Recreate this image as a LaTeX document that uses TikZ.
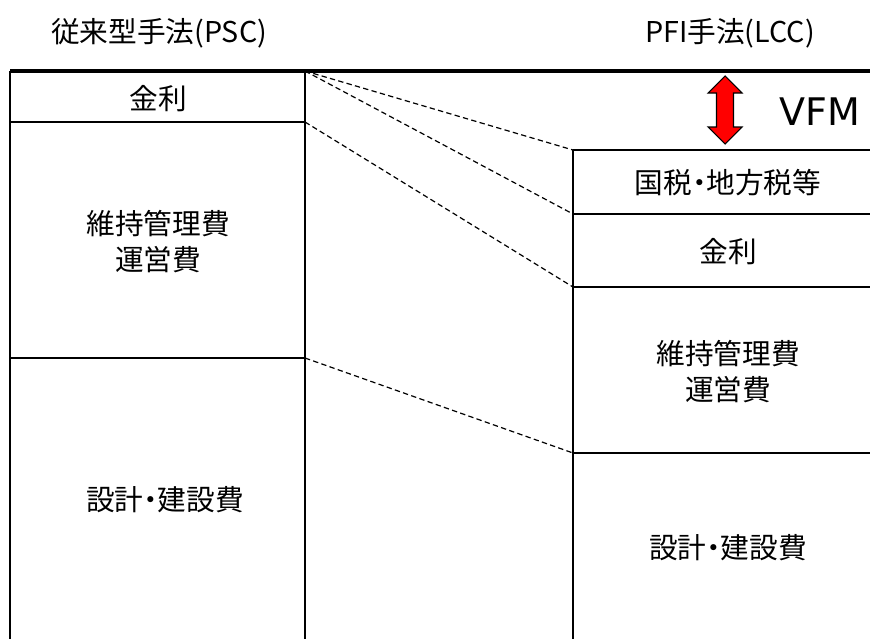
\documentclass[tikz,border=0pt]{standalone}
\usepackage{fontspec}
\setmainfont{Noto Sans CJK JP}
\newfontfamily\vfmfont{DejaVu Sans}
\newcommand{\hdot}{\makebox[0.5em][c]{・}}
\begin{document}
\begin{tikzpicture}[x=0.75pt,y=-0.75pt,
  frame/.style={line width=1.5pt,black},
  topline/.style={line width=2.6pt,black},
  link/.style={line width=0.9pt,dash pattern=on 4pt off 2.5pt,black},
  lbl/.style={font=\fontsize{21.5pt}{27pt}\selectfont,align=center,inner sep=0pt},
  head/.style={font=\fontsize{21.5pt}{24pt}\selectfont,inner sep=0pt},
  vfm/.style={font=\vfmfont\fontsize{28.5pt}{32pt}\selectfont,inner sep=0pt}]
\useasboundingbox (0,0) rectangle (870,639);
% headings
\node[head] (hpsc) at (159,33) {従来型手法(PSC)};
\node[head] (hpfi) at (730,33) {PFI手法(LCC)};
% corner coordinates
\coordinate (lt) at (305,71);
\coordinate (l1) at (305,122);
\coordinate (l2) at (305,358);
\coordinate (r0) at (573,150);
\coordinate (r1) at (573,214);
\coordinate (r2) at (573,287);
\coordinate (r3) at (573,453);
% left column
\draw[frame] (10,71) -- (10,639);
\draw[frame] (lt) -- (305,639);
\draw[frame] (10,122) -- (l1);
\draw[frame] (10,358) -- (l2);
% right column
\draw[frame] (r0) -- (573,639);
\draw[frame] (r0) -- (870,150);
\draw[frame] (r1) -- (870,214);
\draw[frame] (r2) -- (870,287);
\draw[frame] (r3) -- (870,453);
% top line
\draw[topline] (10,71) -- (870,71);
% dashed connectors
\draw[link] (lt) -- (r0);
\draw[link] (lt) -- (r1);
\draw[link] (l1) -- (r2);
\draw[link] (l2) -- (r3);
% left labels
\node[lbl] (lkinri) at (158,99) {金利};
\node[lbl] (lmaint) at (158,242) {維持管理費\\運営費};
\node[lbl] (ldesign) at (165,500) {設計\hdot 建設費};
% right labels
\node[lbl] (rtax) at (728,183) {国税\hdot 地方税等};
\node[lbl] (rkinri) at (728,252) {金利};
\node[lbl] (rmaint) at (728,372) {維持管理費\\運営費};
\node[lbl] (rdesign) at (728,548) {設計\hdot 建設費};
% VFM arrow
\draw[fill=red,draw=black,line width=0.8pt,line join=miter]
  (725,76) -- (742,93) -- (733.5,93) -- (733.5,127) -- (742,127) -- (725,144)
  -- (708,127) -- (716.5,127) -- (716.5,93) -- (708,93) -- cycle;
\node[vfm] (vfm) at (820,112) {VFM};
\end{tikzpicture}
\end{document}
